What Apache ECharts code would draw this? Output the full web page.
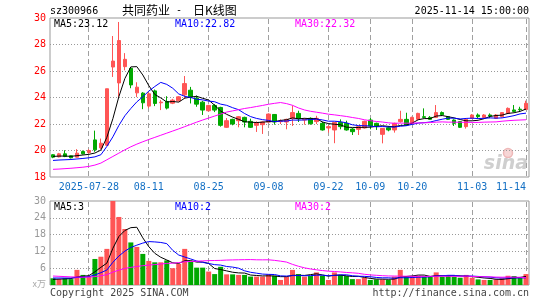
<!DOCTYPE html>
<html>
<head>
<meta charset="utf-8">
<script src="https://cdn.jsdelivr.net/npm/echarts@6/dist/echarts.min.js"></script>
<style>
  html, body { margin: 0; padding: 0; background: #fff; }
  #chart { width: 545px; height: 300px; }
</style>
</head>
<body>
<div id="chart"></div>
<script>
const dates = [
  '2025-07-18', '2025-07-21', '2025-07-22', '2025-07-23', '2025-07-24', '2025-07-25', '2025-07-28', '2025-07-29', '2025-07-30', '2025-07-31',
  '2025-08-01', '2025-08-04', '2025-08-05', '2025-08-06', '2025-08-07', '2025-08-08', '2025-08-11', '2025-08-12', '2025-08-13', '2025-08-14',
  '2025-08-15', '2025-08-18', '2025-08-19', '2025-08-20', '2025-08-21', '2025-08-22', '2025-08-25', '2025-08-26', '2025-08-27', '2025-08-28',
  '2025-08-29', '2025-09-01', '2025-09-02', '2025-09-03', '2025-09-04', '2025-09-05', '2025-09-08', '2025-09-09', '2025-09-10', '2025-09-11',
  '2025-09-12', '2025-09-15', '2025-09-16', '2025-09-17', '2025-09-18', '2025-09-19', '2025-09-22', '2025-09-23', '2025-09-24', '2025-09-25',
  '2025-09-26', '2025-09-29', '2025-09-30', '2025-10-09', '2025-10-10', '2025-10-13', '2025-10-14', '2025-10-15', '2025-10-16', '2025-10-17',
  '2025-10-20', '2025-10-21', '2025-10-22', '2025-10-23', '2025-10-24', '2025-10-27', '2025-10-28', '2025-10-29', '2025-10-30', '2025-10-31',
  '2025-11-03', '2025-11-04', '2025-11-05', '2025-11-06', '2025-11-07', '2025-11-10', '2025-11-11', '2025-11-12', '2025-11-13', '2025-11-14'
];

const opens = [
  19.68, 19.52, 19.75, 19.6, 19.5, 19.92, 19.85, 20.8, 20.2, 20.4,
  26.3, 25.1, 26.33, 26.2, 24.35, 24.33, 23.35, 24.5, 23.6, 23.7,
  23.57, 23.75, 24.2, 24.55, 23.95, 23.65, 23.0, 23.4, 23.25, 21.75,
  22.35, 22.25, 22.5, 22.2, 21.9, 21.95, 22.15, 22.72, 22.18, 22.15,
  22.43, 22.8, 22.3, 22.43, 22.18, 22.05, 21.7, 21.55, 22.12, 22.05,
  21.62, 21.6, 21.7, 22.3, 22.05, 21.22, 21.72, 21.55, 22.18, 22.35,
  22.05, 22.35, 22.55, 22.5, 22.5, 22.86, 22.55, 22.3, 22.18, 21.8,
  22.43, 22.68, 22.5, 22.68, 22.43, 22.55, 22.8, 23.06, 23.12, 23.1
];
const closes = [
  19.5, 19.75, 19.55, 19.45, 19.8, 19.75, 20.0, 20.05, 20.55, 24.66,
  26.75, 28.3, 26.88, 24.95, 24.78, 23.6, 24.28, 23.55, 23.65, 23.2,
  23.8, 24.05, 25.05, 24.05, 23.5, 23.05, 23.4, 23.05, 21.9, 22.25,
  22.0, 22.55, 22.15, 21.75, 22.1, 22.15, 22.75, 22.15, 22.2, 22.35,
  22.86, 22.4, 22.35, 22.02, 22.43, 21.55, 21.8, 22.12, 21.8, 21.55,
  21.42, 21.8, 22.2, 21.85, 21.85, 21.67, 21.55, 22.05, 22.35, 21.92,
  22.5, 22.8, 22.5, 22.35, 22.86, 22.7, 22.35, 22.05, 21.75, 22.35,
  22.68, 22.55, 22.68, 22.6, 22.68, 22.86, 23.18, 22.95, 23.08, 23.56
];
const highs = [
  19.72, 19.82, 20.02, 19.62, 20.1, 20.0, 20.1, 21.5, 20.9, 24.66,
  28.64, 29.7, 27.35, 26.3, 25.15, 24.4, 24.4, 24.6, 23.8, 24.1,
  23.9, 24.1, 25.62, 24.8, 24.15, 23.75, 23.45, 23.5, 23.3, 22.45,
  22.4, 22.6, 22.55, 22.4, 22.2, 22.2, 22.8, 22.75, 22.35, 22.4,
  23.4, 23.0, 22.45, 22.5, 22.62, 22.18, 21.9, 22.15, 22.35, 22.25,
  21.7, 21.85, 22.25, 22.45, 22.1, 21.7, 21.85, 22.1, 23.0, 22.85,
  22.55, 22.85, 23.18, 22.6, 23.43, 22.95, 22.6, 22.35, 22.2, 22.4,
  22.75, 22.8, 22.75, 22.8, 22.75, 22.9, 23.25, 23.43, 23.3, 23.76
];
const lows = [
  19.42, 19.48, 19.5, 19.4, 19.48, 19.7, 19.75, 19.9, 20.1, 20.35,
  25.55, 24.0, 26.05, 24.7, 24.03, 23.12, 23.2, 23.35, 23.05, 23.1,
  23.5, 23.7, 23.9, 23.55, 23.3, 22.68, 22.95, 22.9, 21.8, 21.7,
  21.9, 21.75, 21.75, 21.7, 21.4, 21.25, 22.1, 21.95, 22.0, 21.6,
  21.85, 22.15, 21.95, 21.95, 22.0, 21.5, 21.35, 20.55, 21.6, 21.5,
  21.17, 21.17, 21.65, 21.6, 21.55, 20.54, 21.45, 21.35, 22.1, 21.85,
  22.0, 22.3, 22.45, 22.3, 22.45, 22.6, 22.3, 21.85, 21.7, 21.65,
  22.4, 22.45, 22.45, 22.45, 22.4, 22.5, 22.75, 22.9, 22.95, 23.05
];

const ma5 = [
  19.55, 19.58, 19.58, 19.56, 19.61, 19.66, 19.71, 19.81, 20.03, 21.0,
  22.4, 24.06, 25.43, 26.31, 26.33, 25.7, 24.9, 24.23, 23.97, 23.66,
  23.7, 23.65, 23.95, 24.03, 24.09, 23.94, 23.81, 23.41, 22.98, 22.73,
  22.52, 22.35, 22.17, 22.14, 22.11, 22.14, 22.18, 22.18, 22.27, 22.32,
  22.46, 22.39, 22.43, 22.4, 22.41, 22.15, 22.03, 21.98, 21.94, 21.76,
  21.74, 21.74, 21.75, 21.76, 21.82, 21.87, 21.82, 21.79, 21.89, 21.91,
  22.07, 22.32, 22.41, 22.41, 22.6, 22.64, 22.55, 22.46, 22.34, 22.24,
  22.24, 22.28, 22.4, 22.57, 22.64, 22.67, 22.8, 22.85, 22.95, 23.13
];
const ma10 = [
  19.25, 19.28, 19.3, 19.32, 19.36, 19.4, 19.45, 19.52, 19.68, 20.31,
  21.03, 21.89, 22.62, 23.17, 23.67, 24.05, 24.48, 24.83, 25.14, 24.99,
  24.7, 24.27, 24.09, 24.0, 23.87, 23.82, 23.73, 23.68, 23.5, 23.41,
  23.23, 23.08, 22.79, 22.56, 22.42, 22.33, 22.27, 22.18, 22.21, 22.22,
  22.3, 22.29, 22.31, 22.33, 22.37, 22.31, 22.21, 22.21, 22.17, 22.09,
  21.94, 21.88, 21.87, 21.85, 21.79, 21.81, 21.78, 21.77, 21.83, 21.87,
  21.97, 22.07, 22.1, 22.15, 22.26, 22.36, 22.44, 22.44, 22.38, 22.42,
  22.44, 22.41, 22.43, 22.46, 22.44, 22.46, 22.54, 22.63, 22.76, 22.82
];
const ma30 = [
  18.58, 18.6, 18.63, 18.66, 18.7, 18.74, 18.8, 18.9, 19.05, 19.3,
  19.55, 19.8, 20.05, 20.28, 20.48, 20.66, 20.83, 20.99, 21.15, 21.31,
  21.47, 21.63, 21.8, 21.97, 22.14, 22.3, 22.45, 22.6, 22.75, 22.9,
  22.99, 23.08, 23.17, 23.24, 23.32, 23.4, 23.49, 23.56, 23.62, 23.54,
  23.41, 23.21, 23.06, 22.96, 22.89, 22.82, 22.74, 22.69, 22.63, 22.57,
  22.49, 22.42, 22.32, 22.25, 22.19, 22.15, 22.09, 22.05, 22.07, 22.06,
  22.07, 22.08, 22.09, 22.11, 22.14, 22.16, 22.14, 22.14, 22.13, 22.13,
  22.12, 22.12, 22.14, 22.15, 22.16, 22.21, 22.25, 22.28, 22.3, 22.32
];

const volumes = [
  2.4, 2.1, 2.4, 2.1, 5.4, 3.6, 3.2, 9.3, 10.1, 12.9,
  30, 24.3, 20.0, 15.2, 13.6, 11.1, 8.6, 8.1, 8.1, 8.8,
  6.0, 7.5, 12.9, 8.3, 6.2, 6.2, 4.8, 3.9, 6.5, 3.8,
  3.8, 3.6, 3.6, 3.0, 3.0, 3.0, 3.8, 3.3, 1.8, 3.0,
  5.4, 3.9, 3.0, 3.2, 4.5, 3.3, 1.8, 4.5, 3.6, 3.2,
  2.1, 2.1, 2.6, 1.8, 2.0, 2.0, 1.8, 3.0, 5.4, 3.0,
  3.0, 3.3, 3.0, 3.0, 4.5, 3.0, 3.3, 3.0, 2.6, 3.6,
  2.6, 2.0, 1.8, 1.8, 2.0, 2.4, 3.3, 3.2, 2.6, 3.9
];
const volMa5 = [
  2.0, 2.1, 2.2, 2.3, 2.88, 3.12, 3.34, 4.72, 6.32, 7.82,
  13.1, 17.32, 19.46, 20.48, 20.62, 16.84, 13.7, 11.32, 9.9, 8.94,
  7.92, 7.7, 8.66, 8.7, 8.18, 8.22, 7.68, 5.88, 5.52, 5.04,
  4.56, 4.32, 4.26, 3.56, 3.4, 3.24, 3.28, 3.22, 2.98, 2.98,
  3.46, 3.48, 3.42, 3.7, 4.0, 3.58, 3.16, 3.46, 3.54, 3.28,
  3.04, 3.1, 2.72, 2.36, 2.12, 2.1, 2.04, 2.12, 2.84, 3.04,
  3.24, 3.54, 3.54, 3.06, 3.36, 3.36, 3.36, 3.36, 3.28, 3.1,
  3.02, 2.76, 2.52, 2.36, 2.04, 2.0, 2.26, 2.54, 2.7, 3.08
];
const volMa10 = [
  2.5, 2.5, 2.5, 2.5, 2.7, 2.8, 3.0, 3.6, 4.4, 5.35,
  8.11, 10.33, 12.09, 13.4, 14.22, 14.97, 15.51, 15.39, 15.19, 14.78,
  12.38, 10.7, 9.99, 9.3, 8.56, 8.07, 7.69, 7.27, 7.11, 6.61,
  6.39, 6.0, 5.07, 4.54, 4.22, 3.9, 3.8, 3.74, 3.27, 3.19,
  3.35, 3.38, 3.32, 3.34, 3.49, 3.52, 3.32, 3.44, 3.62, 3.64,
  3.31, 3.13, 3.09, 2.95, 2.7, 2.57, 2.57, 2.42, 2.6, 2.58,
  2.67, 2.79, 2.83, 2.95, 3.2, 3.3, 3.45, 3.45, 3.17, 3.23,
  3.19, 3.06, 2.94, 2.82, 2.57, 2.51, 2.51, 2.53, 2.53, 2.56
];
const volMa30 = [
  3.2, 3.1, 3.0, 2.9, 2.85, 2.8, 2.8, 3.0, 3.3, 3.7,
  4.6, 5.3, 5.9, 6.3, 6.6, 6.9, 7.1, 7.3, 7.5, 7.7,
  7.8, 8.0, 8.3, 8.4, 8.5, 8.6, 8.7, 8.75, 8.8, 8.91,
  8.96, 9.01, 9.05, 9.08, 9.0, 8.98, 9.0, 8.8, 8.52, 8.19,
  7.37, 6.69, 6.13, 5.73, 5.42, 5.16, 4.94, 4.82, 4.67, 4.48,
  4.35, 4.17, 3.83, 3.61, 3.47, 3.33, 3.23, 3.2, 3.16, 3.14,
  3.11, 3.1, 3.08, 3.08, 3.13, 3.13, 3.11, 3.1, 3.13, 3.15,
  3.06, 2.99, 2.95, 2.91, 2.82, 2.79, 2.84, 2.8, 2.77, 2.6
];

const tickDates = ['2025-07-28', '2025-08-11', '2025-08-25', '2025-09-08', '2025-09-22', '2025-10-09', '2025-10-20', '2025-11-03', '2025-11-14'];
const tickLabels = ['2025-07-28', '08-11', '08-25', '09-08', '09-22', '10-09', '10-20', '11-03', '11-14'];

const maLabels = ['MA5:23.12', 'MA10:22.82', 'MA30:22.32'];
const volMaLabels = ['MA5:3', 'MA10:2', 'MA30:2'];
const maColors = ['#000000', '#0000ff', '#ff00ff'];

const upColor = '#ff5555';
const downColor = '#00a800';
const mono = '"DejaVu Sans Mono", monospace';

const gridLeft = 50;
const gridRight = 16;
const panels = [[18, 177], [201, 285]];

const chart = echarts.init(document.getElementById('chart'));

const candles = dates.map((d, i) => [opens[i], closes[i], lows[i], highs[i]]);
const volData = volumes.map((v, i) => ({
  value: v,
  itemStyle: { color: closes[i] >= opens[i] ? upColor : downColor }
}));

function maLine(name, data, color, axis) {
  return {
    name: name,
    type: 'line',
    xAxisIndex: axis,
    yAxisIndex: axis,
    data: data,
    symbol: 'none',
    z: 6,
    lineStyle: { color: color, width: 1 },
    emphasis: { disabled: true }
  };
}

function label(text, x, y, color, extra) {
  return Object.assign({
    type: 'text',
    x: x,
    y: y,
    z: 10,
    style: {
      text: text,
      fill: color,
      font: '10px ' + mono,
      textVerticalAlign: 'middle'
    }
  }, extra || {});
}

const graphics = [
  label('sz300966', 50, 11.5, '#000'),
  { type: 'text', x: 122, y: 10.5, style: { text: '共同药业', fill: '#000', font: '12px "Noto Sans CJK SC"', textVerticalAlign: 'middle' } },
  label('-', 176, 10.5, '#000'),
  { type: 'text', x: 193, y: 10.5, style: { text: '日K线图', fill: '#000', font: '12px "Noto Sans CJK SC"', textVerticalAlign: 'middle' } },
  { type: 'text', x: 529, y: 11.5, style: { text: '2025-11-14 15:00:00', fill: '#000', font: '10px ' + mono, textAlign: 'right', textVerticalAlign: 'middle' } },
  label(maLabels[0], 54, 24, maColors[0]),
  label(maLabels[1], 175, 24, maColors[1]),
  label(maLabels[2], 295, 24, maColors[2]),
  label(volMaLabels[0], 54, 207, maColors[0]),
  label(volMaLabels[1], 175, 207, maColors[1]),
  label(volMaLabels[2], 295, 207, maColors[2]),
  { type: 'text', x: 46, y: 284, style: { text: 'x万', fill: '#aaaaaa', font: '9px "Noto Sans CJK SC"', textAlign: 'right', textVerticalAlign: 'middle' } },
  label('Copyright 2025 SINA.COM', 50, 293.5, '#444'),
  { type: 'text', x: 529, y: 293.5, style: { text: 'http://finance.sina.com.cn', fill: '#444', font: '10px ' + mono, textAlign: 'right', textVerticalAlign: 'middle' } },
  { type: 'circle', z: 0, shape: { cx: 508, cy: 153, r: 4.5 }, style: { fill: '#f6d6d6', stroke: '#eeb8b8', lineWidth: 1.5 } },
  { type: 'text', x: 528, y: 164, z: 0, style: { text: 'sina', fill: '#cfcfcf', font: 'italic bold 19px "DejaVu Sans"', textAlign: 'right', textVerticalAlign: 'middle' } }
];

chart.setOption({
  animation: false,
  backgroundColor: '#ffffff',
  grid: [
    { left: gridLeft, right: gridRight, top: 18, height: 159, show: true, borderColor: '#999999', borderWidth: 1 },
    { left: gridLeft, right: gridRight, top: 201, height: 84, show: true, borderColor: '#999999', borderWidth: 1 }
  ],
  xAxis: [
    {
      type: 'category',
      gridIndex: 0,
      data: dates,
      boundaryGap: true,
      axisLine: { show: false },
      axisTick: { show: false },
      splitLine: { show: false },
      axisLabel: {
        interval: (i, v) => tickDates.includes(v),
        formatter: (v) => tickLabels[tickDates.indexOf(v)],
        color: '#1470c4',
        fontFamily: mono,
        fontSize: 10,
        margin: 5,
        alignMaxLabel: 'right'
      }
    },
    {
      type: 'category',
      gridIndex: 1,
      data: dates,
      boundaryGap: true,
      axisLine: { show: false },
      axisTick: { show: false },
      axisLabel: { show: false },
      splitLine: { show: false }
    }
  ],
  yAxis: [
    {
      type: 'value',
      gridIndex: 0,
      min: 18,
      max: 30,
      interval: 2,
      axisLine: { show: false },
      axisTick: { show: false },
      axisLabel: { color: '#ff0000', fontFamily: mono, fontSize: 10, margin: 4 },
      splitLine: { showMinLine: false, showMaxLine: false, lineStyle: { color: '#999999', type: [1, 2] } }
    },
    {
      type: 'value',
      gridIndex: 1,
      min: 0,
      max: 30,
      interval: 6,
      axisLine: { show: false },
      axisTick: { show: false },
      axisLabel: { color: '#999999', fontFamily: mono, fontSize: 10, margin: 4, formatter: (v) => (v === 0 ? '' : v) },
      splitLine: { showMinLine: false, showMaxLine: false, lineStyle: { color: '#999999', type: [1, 2] } }
    }
  ],
  series: [
    {
      type: 'candlestick',
      xAxisIndex: 0,
      yAxisIndex: 0,
      data: candles,
      barWidth: 4,
      z: 5,
      itemStyle: {
        color: upColor,
        color0: downColor,
        borderColor: upColor,
        borderColor0: downColor,
        borderWidth: 1
      }
    },
    maLine('MA5', ma5, maColors[0], 0),
    maLine('MA10', ma10, maColors[1], 0),
    maLine('MA30', ma30, maColors[2], 0),
    {
      type: 'bar',
      xAxisIndex: 1,
      yAxisIndex: 1,
      data: volData,
      barWidth: 5,
      z: 5
    },
    maLine('VMA5', volMa5, maColors[0], 1),
    maLine('VMA10', volMa10, maColors[1], 1),
    maLine('VMA30', volMa30, maColors[2], 1)
  ],
  graphic: graphics
});

// vertical dashed lines through the labelled dates; x comes from the axis,
// with the band centre of the category as a fallback
const slot = (545 - gridLeft - gridRight) / dates.length;
const dateLines = [];
tickDates.forEach(function (d) {
  const idx = dates.indexOf(d);
  let px = Number(chart.convertToPixel({ xAxisIndex: 0 }, idx));
  if (!isFinite(px)) px = gridLeft + slot * (idx + 0.5);
  const x = Math.round(px - 0.5);
  panels.forEach(function (p) {
    for (let y = p[0] + 1; y < p[1]; y += 8) {
      dateLines.push({
        type: 'rect',
        z: 0,
        silent: true,
        shape: { x: x, y: y, width: 1, height: Math.min(5, p[1] - y) },
        style: { fill: '#a0a0a0' }
      });
    }
  });
});
chart.setOption({ graphic: graphics.concat(dateLines) });

window.addEventListener('resize', function () {
  chart.resize();
});
</script>
</body>
</html>
